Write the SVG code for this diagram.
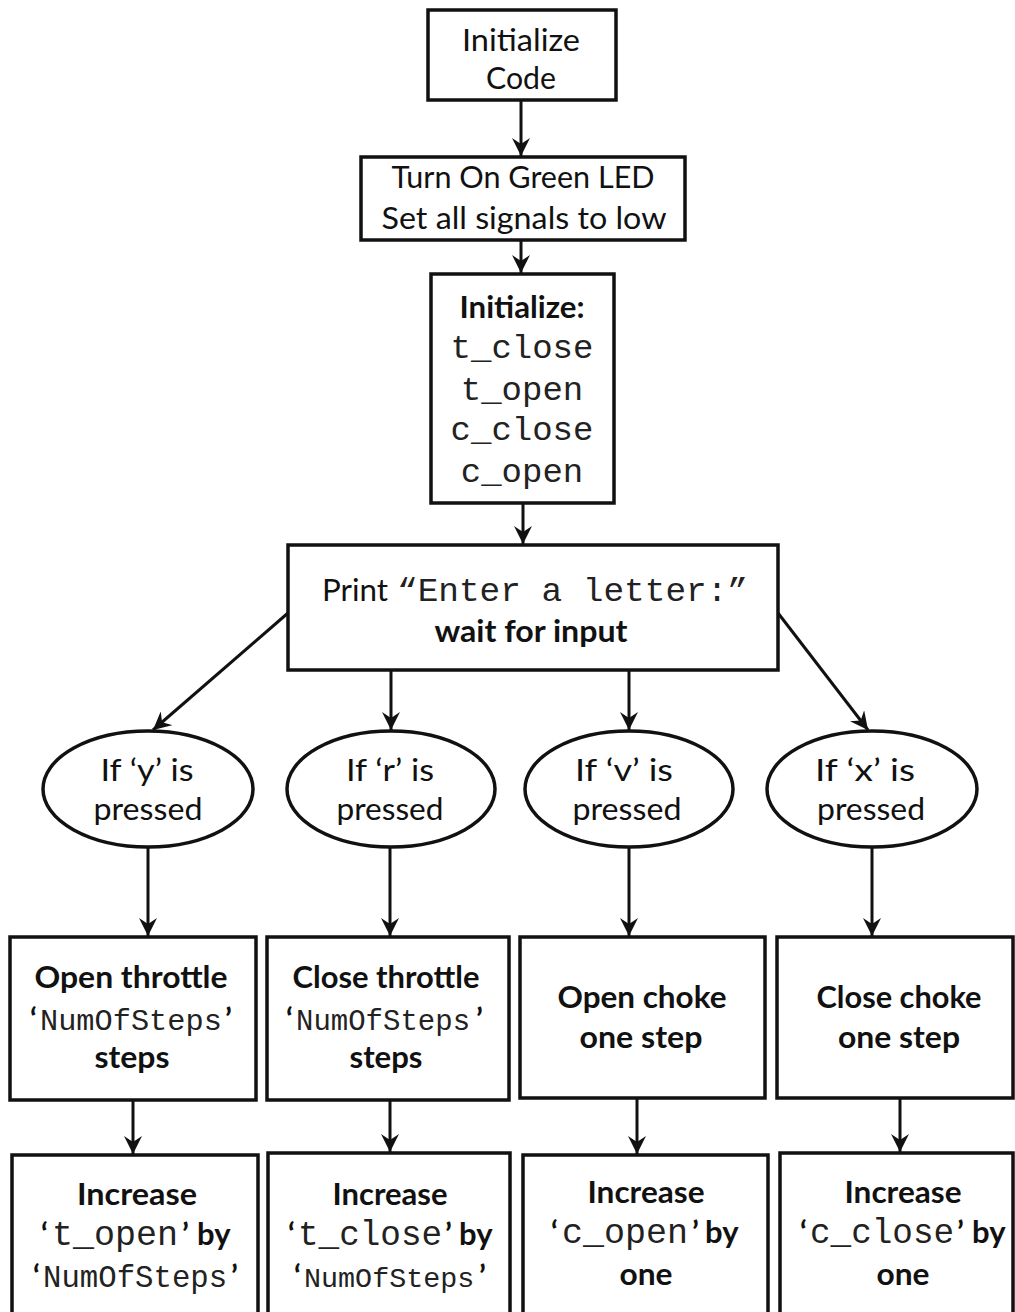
<svg xmlns="http://www.w3.org/2000/svg" width="1015" height="1312" viewBox="0 0 1015 1312">
<defs>
<marker id="ah" markerUnits="userSpaceOnUse" markerWidth="20" markerHeight="18" refX="18" refY="9" orient="auto">
<path d="M0,0 L18,9 L0,18 L6,9 z" fill="#111"/>
</marker>
<style>
.box{fill:#fff;stroke:#111;stroke-width:3.5}
.t{font-family:Lato,"Open Sans","Liberation Sans",sans-serif;font-size:31px;fill:#111}
.b{font-weight:bold}
.c{text-anchor:middle}
.m{font-family:"Liberation Mono","Courier New",monospace;font-size:34px;fill:#222;font-weight:normal}
.e{stroke:#111;stroke-width:3;fill:none;marker-end:url(#ah)}
</style>
</defs>
<rect width="1015" height="1312" fill="#fff"/>
<g id="connectors">
<line class="e" x1="521" y1="100" x2="521" y2="156"/>
<line class="e" x1="521" y1="240" x2="521" y2="273"/>
<line class="e" x1="523" y1="503" x2="523" y2="544"/>
<line class="e" x1="288" y1="613" x2="153" y2="730"/>
<line class="e" x1="391" y1="670" x2="391" y2="730"/>
<line class="e" x1="629" y1="670" x2="629" y2="730"/>
<line class="e" x1="778" y1="613" x2="868" y2="730"/>
<line class="e" x1="148" y1="848" x2="148" y2="936"/>
<line class="e" x1="390" y1="848" x2="390" y2="936"/>
<line class="e" x1="629" y1="848" x2="629" y2="936"/>
<line class="e" x1="872" y1="848" x2="872" y2="936"/>
<line class="e" x1="133" y1="1100" x2="133" y2="1154"/>
<line class="e" x1="390" y1="1100" x2="390" y2="1152"/>
<line class="e" x1="637" y1="1098" x2="637" y2="1154"/>
<line class="e" x1="900" y1="1098" x2="900" y2="1152"/>
</g>
<g id="n1">
<rect class="box" x="428" y="10" width="188" height="90"/>
<text class="t c" x="521" y="51" textLength="118" lengthAdjust="spacingAndGlyphs">Initialize</text>
<text class="t c" x="521" y="89" textLength="70" lengthAdjust="spacingAndGlyphs">Code</text>
</g>
<g id="n2">
<rect class="box" x="361" y="157" width="324" height="83"/>
<text class="t c" x="523" y="188" textLength="263" lengthAdjust="spacingAndGlyphs">Turn On Green LED</text>
<text class="t c" x="524" y="229" textLength="285" lengthAdjust="spacingAndGlyphs">Set all signals to low</text>
</g>
<g id="n3">
<rect class="box" x="431" y="274" width="183" height="229"/>
<text class="t b c" x="522" y="318" textLength="125" lengthAdjust="spacingAndGlyphs">Initialize:</text>
<text class="m c" x="522" y="358">t_close</text>
<text class="m c" x="522" y="400">t_open</text>
<text class="m c" x="522" y="440">c_close</text>
<text class="m c" x="522" y="482">c_open</text>
</g>
<g id="n4">
<rect class="box" x="288" y="545" width="490" height="125"/>
<text class="t" x="322" y="601" textLength="66" lengthAdjust="spacingAndGlyphs">Print</text>
<text class="m" x="397" y="601" textLength="351" lengthAdjust="spacingAndGlyphs">“Enter a letter:”</text>
<text class="t b c" x="531" y="642" textLength="193" lengthAdjust="spacingAndGlyphs">wait for input</text>
</g>
<g id="e1">
<ellipse class="box" cx="148" cy="789" rx="105" ry="58"/>
<text class="t c" x="147" y="781" textLength="93" lengthAdjust="spacingAndGlyphs">If ‘y’ is</text>
<text class="t c" x="148" y="820" textLength="109" lengthAdjust="spacingAndGlyphs">pressed</text>
</g>
<g id="e2">
<ellipse class="box" cx="391" cy="789" rx="104" ry="58"/>
<text class="t c" x="390" y="781" textLength="88" lengthAdjust="spacingAndGlyphs">If ‘r’ is</text>
<text class="t c" x="390" y="820" textLength="107" lengthAdjust="spacingAndGlyphs">pressed</text>
</g>
<g id="e3">
<ellipse class="box" cx="629" cy="789" rx="104" ry="58"/>
<text class="t c" x="624" y="781" textLength="98" lengthAdjust="spacingAndGlyphs">If ‘v’ is</text>
<text class="t c" x="627" y="820" textLength="109" lengthAdjust="spacingAndGlyphs">pressed</text>
</g>
<g id="e4">
<ellipse class="box" cx="872" cy="789" rx="105" ry="58"/>
<text class="t c" x="865" y="781" textLength="100" lengthAdjust="spacingAndGlyphs">If ‘x’ is</text>
<text class="t c" x="871" y="820" textLength="108" lengthAdjust="spacingAndGlyphs">pressed</text>
</g>
<g id="r5a">
<rect class="box" x="10" y="937" width="246" height="163"/>
<text class="t b c" x="131" y="988" textLength="193" lengthAdjust="spacingAndGlyphs">Open throttle</text>
<text class="t b" y="1030"><tspan x="30">‘</tspan><tspan class="m" x="40" style="font-size:30.3px">NumOfSteps</tspan><tspan x="225">’</tspan></text>
<text class="t b c" x="132" y="1068" textLength="75" lengthAdjust="spacingAndGlyphs">steps</text>
</g>
<g id="r5b">
<rect class="box" x="267" y="937" width="242" height="163"/>
<text class="t b c" x="386" y="988" textLength="187" lengthAdjust="spacingAndGlyphs">Close throttle</text>
<text class="t b" y="1030"><tspan x="286">‘</tspan><tspan class="m" x="296" style="font-size:29px">NumOfSteps</tspan><tspan x="476">’</tspan></text>
<text class="t b c" x="386" y="1068" textLength="73" lengthAdjust="spacingAndGlyphs">steps</text>
</g>
<g id="r5c">
<rect class="box" x="520" y="937" width="245" height="161"/>
<text class="t b c" x="642" y="1008" textLength="169" lengthAdjust="spacingAndGlyphs">Open choke</text>
<text class="t b c" x="641" y="1048" textLength="123" lengthAdjust="spacingAndGlyphs">one step</text>
</g>
<g id="r5d">
<rect class="box" x="777" y="937" width="236" height="161"/>
<text class="t b c" x="899" y="1008" textLength="165" lengthAdjust="spacingAndGlyphs">Close choke</text>
<text class="t b c" x="899" y="1048" textLength="122" lengthAdjust="spacingAndGlyphs">one step</text>
</g>
<g id="r6a">
<rect class="box" x="12" y="1155" width="246" height="170"/>
<text class="t b c" x="137" y="1205" textLength="120" lengthAdjust="spacingAndGlyphs">Increase</text>
<text class="t b" y="1245"><tspan x="41">‘</tspan><tspan class="m" x="52" style="font-size:35px">t_open</tspan><tspan x="182">’</tspan><tspan x="197">by</tspan></text>
<text class="t b" y="1287"><tspan x="33">‘</tspan><tspan class="m" x="43" style="font-size:30.7px">NumOfSteps</tspan><tspan x="231">’</tspan></text>
</g>
<g id="r6b">
<rect class="box" x="268" y="1153" width="242" height="172"/>
<text class="t b c" x="390" y="1205" textLength="115" lengthAdjust="spacingAndGlyphs">Increase</text>
<text class="t b" y="1245"><tspan x="288">‘</tspan><tspan class="m" x="298" style="font-size:34.3px">t_close</tspan><tspan x="445">’</tspan><tspan x="459">by</tspan></text>
<text class="t b" y="1287"><tspan x="294">‘</tspan><tspan class="m" x="304" style="font-size:28.4px">NumOfSteps</tspan><tspan x="479">’</tspan></text>
</g>
<g id="r6c">
<rect class="box" x="523" y="1155" width="245" height="170"/>
<text class="t b c" x="646" y="1203" textLength="117" lengthAdjust="spacingAndGlyphs">Increase</text>
<text class="t b" y="1243"><tspan x="551">‘</tspan><tspan class="m" x="562" style="font-size:35px">c_open</tspan><tspan x="692">’</tspan><tspan x="705">by</tspan></text>
<text class="t b c" x="646" y="1285" textLength="53" lengthAdjust="spacingAndGlyphs">one</text>
</g>
<g id="r6d">
<rect class="box" x="780" y="1153" width="233" height="172"/>
<text class="t b c" x="903" y="1203" textLength="117" lengthAdjust="spacingAndGlyphs">Increase</text>
<text class="t b" y="1243"><tspan x="800">‘</tspan><tspan class="m" x="810" style="font-size:34.3px">c_close</tspan><tspan x="957">’</tspan><tspan x="972">by</tspan></text>
<text class="t b c" x="903" y="1285" textLength="53" lengthAdjust="spacingAndGlyphs">one</text>
</g>
</svg>
